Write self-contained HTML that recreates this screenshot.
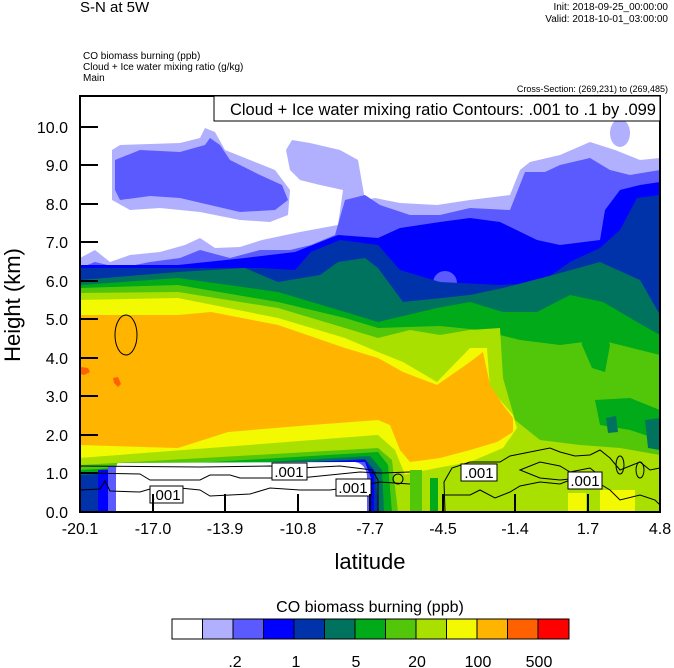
<!DOCTYPE html>
<html><head><meta charset="utf-8"><style>
body{margin:0;background:#fff;width:674px;height:668px;overflow:hidden}
svg{display:block}
text{font-family:"Liberation Sans",sans-serif;fill:#000}
</style></head><body>
<svg width="674" height="668" viewBox="0 0 674 668" xmlns="http://www.w3.org/2000/svg">
<defs><clipPath id="pc"><rect x="80" y="96" width="580" height="416"/></clipPath></defs>
<g clip-path="url(#pc)">
<rect x="80" y="96" width="580" height="416" fill="#fff"/>
<!-- lavender -->
<path fill="#b0b0ff" d="M80,258 L95,250 L110,262 L130,255 L160,252 L185,245 L200,238 L215,248 L240,247 L262,240 L300,232 L338,225 L343,190 L320,185 L300,180 L290,170 L286,150 L292,140 L310,143 L340,150 L358,160 L365,200 L375,198 L400,203 L437,205 L470,200 L510,195 L520,170 L530,162 L560,155 L590,142 L615,150 L640,160 L660,158 L660,512 L80,512 Z"/>
<path fill="#b0b0ff" d="M112,150 L120,145 L180,143 L200,138 L205,128 L215,132 L225,150 L250,160 L275,170 L290,190 L288,215 L270,222 L240,220 L200,212 L160,208 L130,210 L112,200 Z"/>
<ellipse cx="620" cy="133" rx="10" ry="14" fill="#b0b0ff"/>
<!-- 5a5aff -->
<path fill="#5a5aff" d="M80,268 L95,262 L120,268 L150,262 L180,258 L200,250 L230,258 L260,250 L290,250 L311,245 L335,235 L345,200 L365,195 L380,205 L410,215 L440,215 L470,208 L510,210 L525,172 L545,172 L560,165 L590,158 L610,170 L630,175 L660,170 L660,512 L80,512 Z"/>
<path fill="#5a5aff" d="M115,160 L140,150 L180,152 L205,145 L210,138 L220,145 L230,160 L260,175 L282,185 L288,200 L275,210 L240,212 L210,205 L180,198 L150,196 L120,200 L115,190 Z"/>
<!-- blue -->
<path fill="#0000ff" d="M80,265 L178,265 L245,258 L295,252 L338,235 L378,238 L400,228 L440,222 L470,218 L500,222 L537,240 L560,245 L600,240 L605,210 L620,190 L640,185 L660,182 L660,512 L80,512 Z"/>
<ellipse cx="445" cy="283" rx="12" ry="12" fill="#5a5aff"/>
<!-- dark blue -->
<path fill="#0033aa" d="M80,268 L200,268 L260,268 L295,270 L311,252 L340,240 L378,245 L400,270 L440,282 L500,285 L540,283 L570,262 L600,248 L620,230 L637,198 L660,195 L660,512 L80,512 Z"/>
<!-- teal -->
<path fill="#00735e" d="M80,280 L178,272 L245,268 L278,282 L320,275 L338,262 L365,258 L378,268 L403,302 L470,295 L503,288 L553,275 L600,262 L640,280 L660,315 L660,512 L80,512 Z"/>
<!-- green -->
<path fill="#00aa18" d="M80,285 L178,278 L278,292 L345,312 L378,322 L437,308 L470,302 L503,312 L537,312 L570,295 L603,302 L637,322 L660,335 L660,512 L80,512 Z"/>
<!-- light green -->
<path fill="#52c70a" d="M80,288 L178,285 L278,302 L345,318 L378,328 L440,326 L480,330 L520,340 L560,345 L600,340 L640,350 L660,355 L660,512 L80,512 Z"/>
<path fill="#00aa18" d="M580,316 L600,318 L610,345 L605,372 L592,368 L582,345 Z"/>
<path fill="#00aa18" d="M595,400 L630,398 L660,410 L660,440 L630,430 L600,425 Z"/>
<path fill="#00735e" d="M606,418 L616,416 L618,432 L608,433 Z"/>
<path fill="#00735e" d="M645,420 L660,418 L660,450 L648,448 Z"/>
<!-- yellow-green -->
<path fill="#a9e000" d="M80,293 L178,292 L278,308 L345,328 L378,338 L410,330 L440,335 L470,330 L500,328 L503,378 L515,420 L540,440 L580,445 L620,448 L660,455 L660,512 L80,512 Z"/>
<!-- yellow -->
<path fill="#f2f900" d="M80,300 L178,298 L278,318 L345,338 L378,352 L403,362 L437,382 L470,348 L487,348 L490,388 L513,415 L517,428 L503,448 L470,462 L437,468 L403,475 L378,435 L211,448 L80,458 Z"/>
<!-- orange -->
<path fill="#ffb400" d="M80,315 L178,315 L211,312 L278,325 L345,348 L378,358 L403,372 L437,385 L470,362 L483,352 L490,385 L503,405 L513,418 L513,432 L497,442 L470,450 L440,458 L410,462 L400,450 L390,425 L378,420 L311,425 L228,432 L178,448 L80,445 Z"/>
<path fill="#ff6000" d="M81,367 L88,368 L90,372 L84,375 L81,374 Z"/>
<path fill="#ff6000" d="M113,378 L118,377 L121,384 L118,387 L114,383 Z"/>
<!-- lower-left bands -->
<path fill="#a9e000" d="M80,458 L211,448 L378,435 L395,450 L405,475 L380,478 L80,470 Z"/>
<path fill="#52c70a" d="M80,465 L378,448 L392,460 L398,512 L80,512 Z"/>
<path fill="#00aa18" d="M80,470 L378,452 L388,465 L392,512 L80,512 Z"/>
<path fill="#00735e" d="M80,473 L370,456 L382,470 L384,512 L80,512 Z"/>
<path fill="#0033aa" d="M80,475 L365,459 L376,472 L378,512 L80,512 Z"/>
<path fill="#0000ff" d="M98,470 L365,460 L374,475 L374,512 L98,512 Z"/>
<path fill="#5a5aff" d="M108,466 L365,462 L371,478 L371,512 L108,512 Z"/>
<path fill="#fff" d="M118,463 L355,462 Q366,464 367,476 L367,512 L116,512 L116,472 Q116,464 118,463 Z"/>
<rect x="410" y="470" width="12" height="42" fill="#52c70a"/>
<rect x="430" y="478" width="8" height="34" fill="#00aa18"/>
<rect x="568" y="493" width="18" height="19" fill="#f2f900"/>
<rect x="600" y="490" width="35" height="22" fill="#f2f900"/>
<!-- contours -->
<g fill="none" stroke="#000" stroke-width="1">
<ellipse cx="126" cy="335" rx="11" ry="20"/>
<path d="M80,473 L140,474 L150,480 L200,480 L210,475 L230,475 L240,478 L300,478 L330,475 L360,472 L380,473 L410,472"/>
<path d="M80,490 L100,489 L105,481 L110,491 L140,492 L160,486 L200,490 L210,496 L250,494 L270,488 L300,490 L330,490 L360,486 L380,482 L410,484"/>
<path d="M80,466 L200,467 L270,466 L300,468 L340,466 L372,470 L378,480 L378,512"/>
<path d="M445,512 L444,482 L452,468 L470,462 L500,462 L510,456 L530,452 L550,448 L560,452 L575,456 L590,455 L600,450 L610,458 L620,470 L640,462 L650,470 L660,468"/>
<path d="M445,495 L470,495 L480,490 L495,498 L510,492 L520,486 L540,482 L560,484 L570,480 L590,478 L610,490 L620,500 L640,495 L655,500 L660,505"/>
<path d="M520,470 L540,462 L560,466 L570,472 L590,468 L600,476 L590,486 L580,478 L560,480 L540,478 Z"/>
<ellipse cx="620" cy="465" rx="4" ry="9"/><ellipse cx="640" cy="470" rx="4" ry="8"/>
<ellipse cx="398" cy="479" rx="5" ry="5"/>
</g>
<g fill="#fff" stroke="#000" stroke-width="1">
<rect x="150" y="486" width="33" height="17"/>
<rect x="272" y="463" width="35" height="17"/>
<rect x="336" y="479" width="35" height="17"/>
<rect x="461" y="464" width="36" height="17"/>
<rect x="568" y="472" width="34" height="17"/>
</g>
<g font-size="15" text-anchor="middle">
<text x="166" y="500">.001</text><text x="289" y="477">.001</text><text x="353" y="493">.001</text><text x="479" y="478">.001</text><text x="585" y="486">.001</text>
</g>
</g>
<!-- frame -->
<rect x="80" y="96" width="580" height="416" fill="none" stroke="#000" stroke-width="2"/>
<rect x="214" y="96" width="446" height="25" fill="#fff" stroke="#000" stroke-width="1"/>
<text x="656" y="115" font-size="16.5" text-anchor="end">Cloud + Ice water mixing ratio Contours: .001 to .1 by .099</text>
<!-- ticks -->
<g stroke="#000" stroke-width="2">
<path d="M80,127h18M80,165h18M80,204h18M80,242h18M80,281h18M80,319h18M80,358h18M80,396h18M80,435h18M80,473h18"/>
<path d="M153,512v-18M225,512v-18M298,512v-18M370,512v-18M443,512v-18M515,512v-18M588,512v-18"/>
</g>
<g font-size="16" text-anchor="end">
<text x="68" y="133">10.0</text><text x="68" y="171">9.0</text><text x="68" y="210">8.0</text><text x="68" y="248">7.0</text><text x="68" y="287">6.0</text><text x="68" y="325">5.0</text><text x="68" y="364">4.0</text><text x="68" y="402">3.0</text><text x="68" y="441">2.0</text><text x="68" y="479">1.0</text><text x="68" y="518">0.0</text>
</g>
<g font-size="16" text-anchor="middle">
<text x="80" y="534">-20.1</text><text x="153" y="534">-17.0</text><text x="225" y="534">-13.9</text><text x="298" y="534">-10.8</text><text x="370" y="534">-7.7</text><text x="443" y="534">-4.5</text><text x="515" y="534">-1.4</text><text x="588" y="534">1.7</text><text x="660" y="534">4.8</text>
</g>
<text x="370" y="569" font-size="22" text-anchor="middle">latitude</text>
<text transform="translate(20,305) rotate(-90)" font-size="22" text-anchor="middle">Height (km)</text>
<!-- header -->
<text x="80" y="12" font-size="15">S-N at 5W</text>
<text x="668" y="10" font-size="10" text-anchor="end">Init: 2018-09-25_00:00:00</text>
<text x="668" y="22" font-size="10" text-anchor="end">Valid: 2018-10-01_03:00:00</text>
<text x="83" y="59" font-size="10">CO biomass burning   (ppb)</text>
<text x="83" y="70" font-size="10">Cloud + Ice water mixing ratio   (g/kg)</text>
<text x="83" y="81" font-size="10">Main</text>
<text x="668" y="92" font-size="9" text-anchor="end">Cross-Section: (269,231) to (269,485)</text>
<!-- colorbar -->
<text x="370" y="612" font-size="16" text-anchor="middle">CO biomass burning  (ppb)</text>
<g stroke="#000" stroke-width="1">
<rect x="172" y="619" width="30.5" height="20" fill="#ffffff"/>
<rect x="202.5" y="619" width="30.5" height="20" fill="#b0b0ff"/>
<rect x="233" y="619" width="30.5" height="20" fill="#5a5aff"/>
<rect x="263.5" y="619" width="30.5" height="20" fill="#0000ff"/>
<rect x="294" y="619" width="30.5" height="20" fill="#0033aa"/>
<rect x="324.5" y="619" width="30.5" height="20" fill="#00735e"/>
<rect x="355" y="619" width="30.5" height="20" fill="#00aa18"/>
<rect x="385.5" y="619" width="30.5" height="20" fill="#52c70a"/>
<rect x="416" y="619" width="30.5" height="20" fill="#a9e000"/>
<rect x="446.5" y="619" width="30.5" height="20" fill="#f2f900"/>
<rect x="477" y="619" width="30.5" height="20" fill="#ffb400"/>
<rect x="507.5" y="619" width="30.5" height="20" fill="#ff6000"/>
<rect x="538" y="619" width="31" height="20" fill="#ff0000"/>
</g>
<g font-size="16" text-anchor="middle">
<text x="235" y="667">.2</text><text x="296" y="667">1</text><text x="356" y="667">5</text><text x="417" y="667">20</text><text x="478" y="667">100</text><text x="539" y="667">500</text>
</g>
</svg>
</body></html>
